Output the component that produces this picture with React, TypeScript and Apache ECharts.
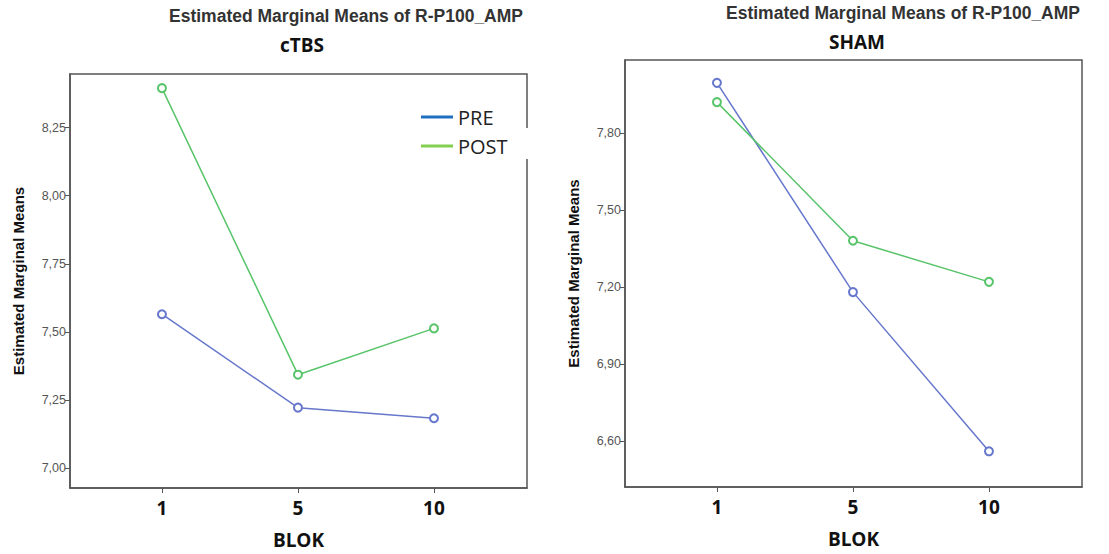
import React, { useEffect, useRef } from "react";
import * as echarts from "echarts";

const blocks = ["1", "5", "10"];
const ctbsPre = [7.565, 7.222, 7.183];
const ctbsPost = [8.395, 7.343, 7.513];
const shamPre = [7.995, 7.18, 6.56];
const shamPost = [7.92, 7.38, 7.22];
const ctbsTicks = [7.0, 7.25, 7.5, 7.75, 8.0, 8.25];
const shamTicks = [6.6, 6.9, 7.2, 7.5, 7.8];

const PRE_LINE = "#6677cc";
const POST_LINE = "#58c46a";
const PRE_LEG = "#1f6fc0";
const POST_LEG = "#82d050";

export default function App() {
  const ref = useRef<HTMLDivElement>(null);
  useEffect(() => {
    if (!ref.current) return;
    const chart = echarts.init(ref.current, null, { renderer: "svg" });
    const idx = blocks.map((_, i) => i);
    const toPts = (arr: number[]) => arr.map((v, i) => [i, v]);
    const xAxisBase = (gridIndex: number) => ({
      type: "value" as const,
      gridIndex,
      min: -0.676,
      max: 2.684,
      name: "BLOK",
      nameLocation: "middle" as const,
      nameGap: 42,
      nameTextStyle: { fontFamily: "Open Sans", fontWeight: "bold", fontSize: 19, color: "#111" },
      axisLine: { show: true, onZero: false, lineStyle: { color: "#555", width: 1.5 } },
      axisTick: { show: true, customValues: idx, length: 5, lineStyle: { color: "#555" } },
      axisLabel: {
        show: true,
        customValues: idx,
        formatter: (v: number) => blocks[Math.round(v)] ?? "",
        fontFamily: "Open Sans",
        fontWeight: "bold",
        fontSize: 19,
        color: "#111",
        margin: 10,
      },
      splitLine: { show: false },
    });
    const yAxisBase = (gridIndex: number, min: number, max: number, ticks: number[]) => ({
      type: "value" as const,
      gridIndex,
      min,
      max,
      name: "Estimated Marginal Means",
      nameLocation: "middle" as const,
      nameRotate: 90,
      nameGap: 44,
      nameTextStyle: { fontFamily: "Liberation Sans", fontWeight: "bold", fontSize: 15, color: "#111" },
      axisLine: { show: true, onZero: false, lineStyle: { color: "#555", width: 1.5 } },
      axisTick: { show: true, customValues: ticks, length: 5, lineStyle: { color: "#555" } },
      axisLabel: {
        show: true,
        customValues: ticks,
        formatter: (v: number) => v.toFixed(2).replace(".", ","),
        fontFamily: "Liberation Sans",
        fontSize: 12.5,
        color: "#555",
        margin: 4,
      },
      splitLine: { show: false },
    });
    const lineSeries = (name: string, data: number[], color: string, gi: number) => ({
      type: "line" as const,
      name,
      xAxisIndex: gi,
      yAxisIndex: gi,
      data: toPts(data),
      symbol: "emptyCircle",
      symbolSize: 8,
      lineStyle: { color, width: 1.5 },
      itemStyle: { color, borderColor: color, borderWidth: 1.3 },
    });
    chart.setOption({
      animation: false,
      backgroundColor: "#fff",
      grid: [
        { left: 70, top: 74, width: 457, height: 416, show: true, borderColor: "#555", borderWidth: 1.5, backgroundColor: "transparent" },
        { left: 625, top: 60, width: 457, height: 427, show: true, borderColor: "#555", borderWidth: 1.5, backgroundColor: "transparent" },
      ],
      xAxis: [xAxisBase(0), xAxisBase(1)],
      yAxis: [yAxisBase(0, 6.927, 8.447, ctbsTicks), yAxisBase(1, 6.421, 8.084, shamTicks)],
      legend: {
        left: 416,
        top: 102,
        orient: "vertical",
        itemGap: 9,
        icon: "rect",
        itemWidth: 32,
        itemHeight: 3,
        textStyle: { fontFamily: "Open Sans", fontSize: 20, color: "#222" },
        selectedMode: false,
        data: [
          { name: "PRE", itemStyle: { color: PRE_LEG, borderWidth: 0 }, lineStyle: { width: 0 } },
          { name: "POST", itemStyle: { color: POST_LEG, borderWidth: 0 }, lineStyle: { width: 0 } },
        ],
      },
      graphic: [
        { type: "rect", shape: { x: 520, y: 128, width: 14, height: 31 }, style: { fill: "#fff" }, z: 100 },
        { type: "text", x: 346, y: 16, style: { text: "Estimated Marginal Means of R-P100_AMP", textAlign: "center", textVerticalAlign: "middle", font: "bold 17.5px 'Liberation Sans'", fill: "#333" } },
        { type: "text", x: 302, y: 45, style: { text: "cTBS", textAlign: "center", textVerticalAlign: "middle", font: "bold 19px 'Open Sans'", fill: "#111" } },
        { type: "text", x: 903, y: 13, style: { text: "Estimated Marginal Means of R-P100_AMP", textAlign: "center", textVerticalAlign: "middle", font: "bold 17.5px 'Liberation Sans'", fill: "#333" } },
        { type: "text", x: 857, y: 42, style: { text: "SHAM", textAlign: "center", textVerticalAlign: "middle", font: "bold 19px 'Open Sans'", fill: "#111" } },
      ],
      series: [
        lineSeries("PRE", ctbsPre, PRE_LINE, 0),
        lineSeries("POST", ctbsPost, POST_LINE, 0),
        lineSeries("PRE", shamPre, PRE_LINE, 1),
        lineSeries("POST", shamPost, POST_LINE, 1),
      ],
    });
    return () => chart.dispose();
  }, []);
  return <div ref={ref} style={{ position: "fixed", left: 0, top: 0, width: 1109, height: 554, background: "#fff" }} />;
}
